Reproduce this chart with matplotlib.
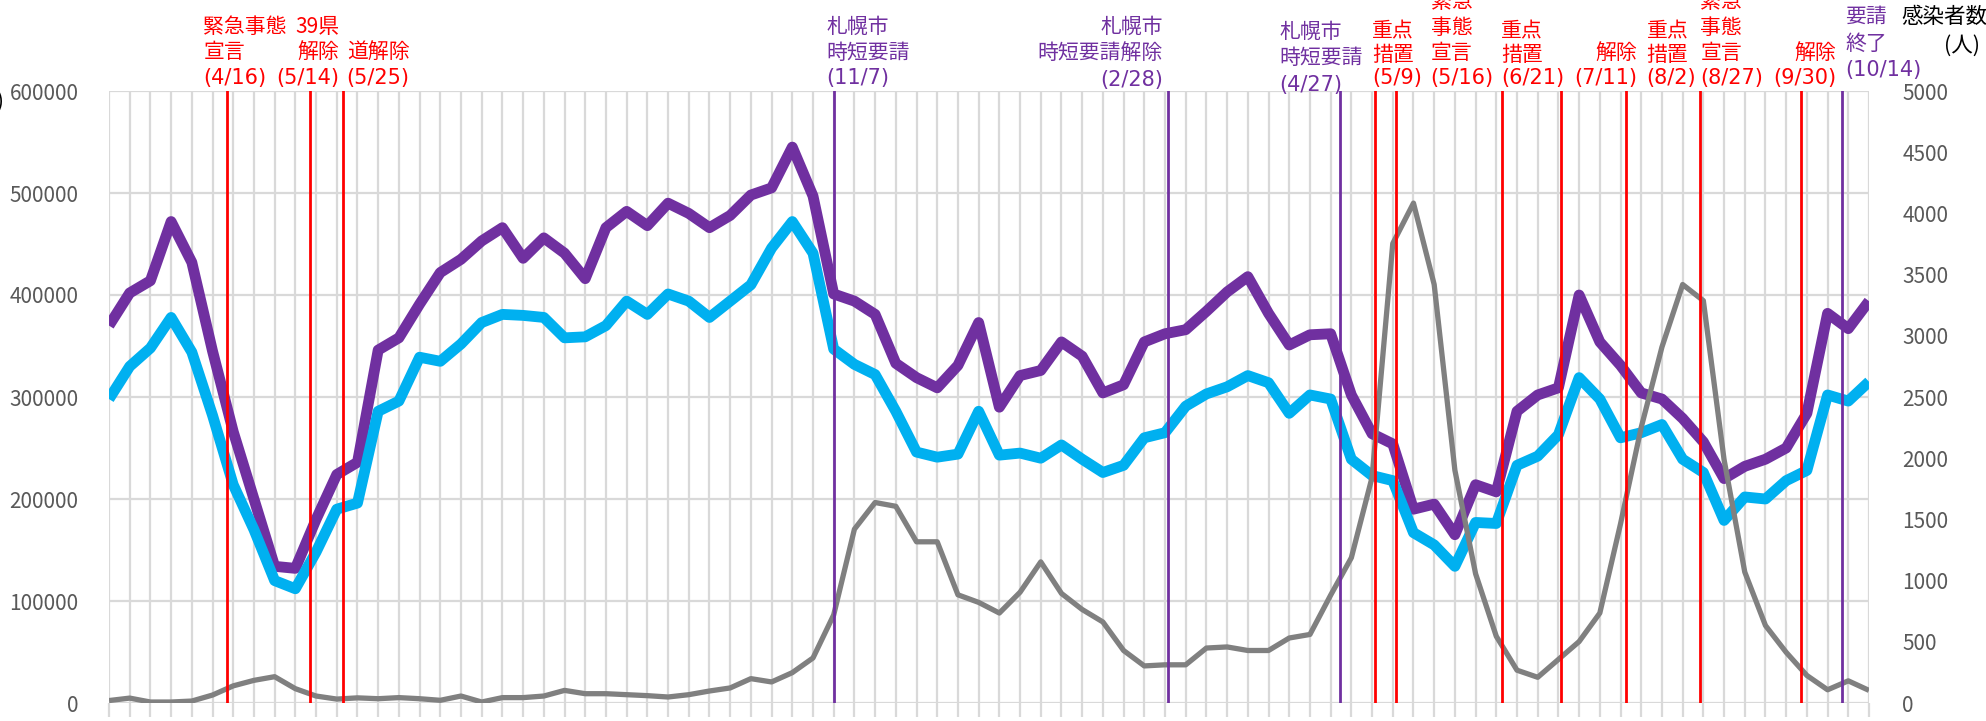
import matplotlib
matplotlib.use("Agg")
import matplotlib.pyplot as plt
import matplotlib.transforms as mtransforms
import matplotlib.dates as mdates
import pandas as pd

plt.rcParams['font.family'] = ['Noto Sans CJK JP', 'DejaVu Sans']

# Weekly observation dates
weeks = pd.date_range('2020-03-07', periods=86, freq='7D')

# People flow, series A (left axis)
flow_a = [370000, 402000, 414000, 472000, 432000, 345000, 266000, 200000, 134000, 132000,
          180000, 224000, 236000, 346000, 358000, 391000, 422000, 435000, 453000, 466000,
          436000, 456000, 441000, 416000, 466000, 482000, 468000, 490000, 480000, 466000,
          478000, 498000, 505000, 545000, 497000, 401000, 394000, 381000, 333000, 319000,
          309000, 331000, 373000, 290000, 321000, 326000, 354000, 340000, 304000, 312000,
          354000, 362000, 366000, 384000, 403000, 418000, 382000, 351000, 361000, 362000,
          302000, 264000, 254000, 190000, 195000, 165000, 214000, 207000, 286000, 302000,
          309000, 400000, 354000, 331000, 304000, 298000, 279000, 256000, 220000, 232000,
          239000, 250000, 284000, 382000, 367000, 394000]

# People flow, series B (left axis)
flow_b = [298000, 330000, 348000, 378000, 344000, 282000, 214000, 170000, 120000, 112000,
          148000, 190000, 196000, 286000, 296000, 339000, 335000, 352000, 373000, 381000,
          380000, 378000, 358000, 359000, 370000, 394000, 381000, 401000, 394000, 378000,
          394000, 410000, 446000, 472000, 441000, 347000, 332000, 322000, 286000, 246000,
          241000, 244000, 286000, 243000, 245000, 240000, 253000, 239000, 226000, 233000,
          260000, 265000, 291000, 303000, 310000, 321000, 314000, 284000, 302000, 298000,
          239000, 223000, 218000, 167000, 155000, 134000, 177000, 176000, 233000, 242000,
          263000, 319000, 298000, 260000, 265000, 273000, 239000, 226000, 179000, 202000,
          200000, 218000, 228000, 302000, 296000, 315000]

# Weekly infections (right axis)
infected = [20, 40, 8, 8, 16, 65, 140, 185, 215, 117,
            57, 32, 42, 35, 44, 35, 22, 57, 8, 44,
            44, 57, 103, 76, 76, 68, 60, 49, 68, 98,
            123, 199, 172, 248, 368, 720, 1420, 1638, 1607, 1317,
            1317, 884, 822, 735, 905, 1153, 895, 764, 662, 429,
            303, 312, 312, 449, 458, 429, 429, 531, 560, 881,
            1187, 1844, 3754, 4084, 3419, 1902, 1056, 545, 268, 210,
            356, 502, 735, 1464, 2252, 2908, 3419, 3287, 1989, 1070,
            633, 414, 225, 108, 181, 103]

# Policy events
event_dates = ['2020-04-16', '2020-05-14', '2020-05-25', '2020-11-07', '2021-02-28',
               '2021-04-27', '2021-05-09', '2021-05-16', '2021-06-21', '2021-07-11',
               '2021-08-02', '2021-08-27', '2021-09-30', '2021-10-14']
event_texts = [
    ['緊急事態', '宣言', '(4/16)'],
    ['39県', '解除', '(5/14)'],
    ['道解除', '(5/25)'],
    ['札幌市', '時短要請', '(11/7)'],
    ['札幌市', '時短要請解除', '(2/28)'],
    ['札幌市', '時短要請', '(4/27)'],
    ['重点', '措置', '(5/9)'],
    ['緊急', '事態', '宣言', '(5/16)'],
    ['重点', '措置', '(6/21)'],
    ['解除', '(7/11)'],
    ['重点', '措置', '(8/2)'],
    ['緊急', '事態', '宣言', '(8/27)'],
    ['解除', '(9/30)'],
    ['札幌市', '時短', '要請', '終了', '(10/14)'],
]
event_kind = ['national', 'national', 'national', 'city', 'city', 'city', 'national',
              'national', 'national', 'national', 'national', 'national', 'national', 'city']

# Label layout: (pixel offset from the event line, alignment, row centres from the top in px)
label_layout = [
    (-24, 'left', [27, 52, 78]),
    (29, 'right', [27, 52, 78]),
    (67, 'right', [52, 78]),
    (-7, 'left', [27, 53, 78]),
    (-5, 'right', [27, 53, 80]),
    (-60, 'left', [32, 58, 85]),
    (-3, 'left', [31, 55, 78]),
    (35, 'left', [2, 28, 53, 78]),
    (-1, 'left', [31, 55, 78]),
    (76, 'right', [53, 78]),
    (20, 'left', [31, 55, 78]),
    (0, 'left', [2, 28, 53, 78]),
    (35, 'right', [53, 78]),
    (3, 'left', [-34, -8, 17, 44, 70]),
]

W, H = 1986, 721
PURPLE = '#7030A0'
BLUE = '#00B0F0'
GRAY = '#808080'
RED = '#FF0000'
GRID = '#D9D9D9'
TICKC = '#595959'
kind_color = {'national': RED, 'city': PURPLE}

fig = plt.figure(figsize=(W / 100, H / 100), dpi=100)
ax = fig.add_axes([109 / W, 18 / H, 1760 / W, 612 / H])
ax2 = ax.twinx()

ax.set_xlim(weeks[0], weeks[-1])
ax.set_ylim(0, 600000)
ax2.set_ylim(0, 5000)

ax.set_xticks(weeks)
ax.set_xticklabels([])
ax.set_yticks(range(0, 600001, 100000))
ax2.set_yticks(range(0, 5001, 500))
ax.set_axisbelow(True)
ax.grid(True, color=GRID, linewidth=1.6)

for a in (ax, ax2):
    for s in a.spines.values():
        s.set_visible(False)

ax.tick_params(axis='x', length=10, width=1.6, color=GRID, direction='out')
ax.tick_params(axis='y', length=0, pad=22, labelsize=15, labelcolor=TICKC)
ax2.tick_params(axis='y', length=0, pad=24, labelsize=15, labelcolor=TICKC)

ax.plot(weeks, flow_a, color=PURPLE, linewidth=7.8, solid_joinstyle='round',
        solid_capstyle='butt', zorder=3)
ax.plot(weeks, flow_b, color=BLUE, linewidth=7.8, solid_joinstyle='round',
        solid_capstyle='butt', zorder=3)
ax2.plot(weeks, infected, color=GRAY, linewidth=3.8, solid_joinstyle='round',
         solid_capstyle='butt', zorder=3)

blend = mtransforms.blended_transform_factory(ax2.transData, fig.transFigure)
for date, lines, kind, (dx, ha, rows) in zip(event_dates, event_texts, event_kind, label_layout):
    d = pd.Timestamp(date)
    color = kind_color[kind]
    ax2.axvline(d, color=color, linewidth=2.0, zorder=5)
    tr = mtransforms.offset_copy(blend, fig=fig, x=dx, y=0, units='dots')
    xnum = mdates.date2num(d)
    for line, ypix in zip(lines, rows):
        # date rows use the wider Latin face
        fam = ['DejaVu Sans'] if line.startswith('(') else ['Noto Sans CJK JP', 'DejaVu Sans']
        fig.text(xnum, 1 - ypix / H, line, transform=tr, ha=ha, va='center',
                 color=color, fontsize=15, family=fam)

# Axis titles
fig.text(1901 / W, 1 - 17 / H, '感染者数', ha='left', va='center', color='black', fontsize=15.5)
fig.text(1962 / W, 1 - 46 / H, '(人)', ha='center', va='center', color='black', fontsize=15.5)
fig.text(4 / W, 1 - 102 / H, '(人)', ha='right', va='center', color='black', fontsize=15)

fig.savefig('out.png', dpi=100, facecolor='white')
